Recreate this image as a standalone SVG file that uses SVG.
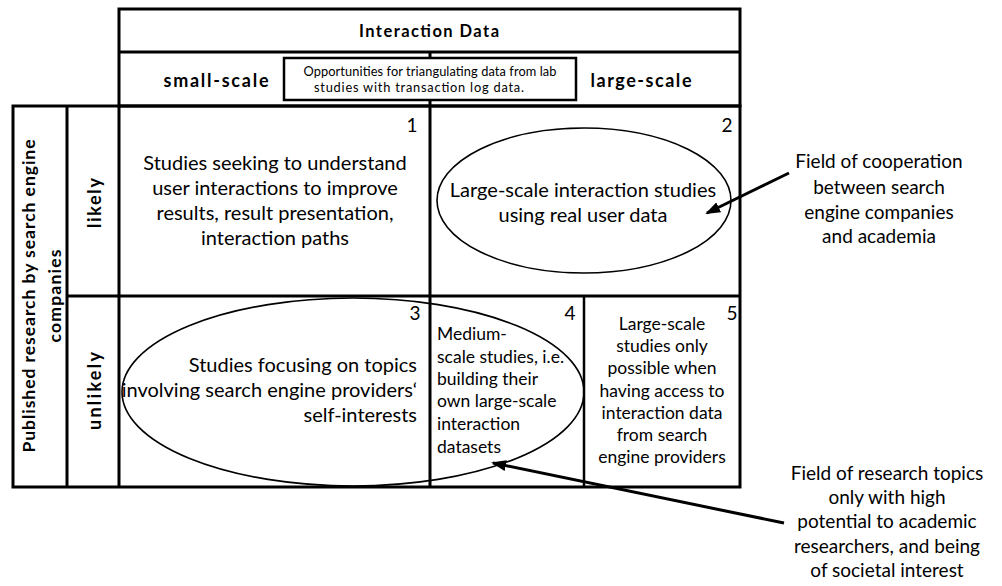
<svg xmlns="http://www.w3.org/2000/svg" width="1002" height="586" viewBox="0 0 1002 586">
  <style>
    .grid { stroke: #000; stroke-width: 3; fill: none; }
    .thin { stroke: #000; stroke-width: 2.5; fill: none; }
    .oval { stroke: #000; stroke-width: 1.6; fill: none; }
    .t { font-family: Lato, "Liberation Sans", sans-serif; fill: #000; }
    .hd { font-family: Lato, "Liberation Sans", sans-serif; font-weight: bold; fill: #000; }
    .body { font-size: 20px; }
    .small { font-size: 17.5px; }
    .note { font-size: 19px; }
    .num { font-size: 19px; }
    .mid { text-anchor: middle; }
    .end { text-anchor: end; }
    .arrow { stroke: #000; stroke-width: 3; fill: none; marker-end: url(#head); }
  </style>
  <defs>
    <marker id="head" markerUnits="userSpaceOnUse" markerWidth="15" markerHeight="11" refX="13" refY="5.5" orient="auto">
      <path d="M0,0 L15,5.5 L0,11 Z" fill="#000"/>
    </marker>
  </defs>
  <rect width="1002" height="586" fill="#fff"/>

  <!-- table grid -->
  <g id="grid">
    <rect class="grid" x="119" y="9" width="621" height="97"/>
    <line class="grid" x1="119" y1="52" x2="740" y2="52"/>
    <rect class="grid" x="13" y="106" width="727" height="381"/>
    <line class="grid" x1="67" y1="106" x2="67" y2="487"/>
    <line class="grid" x1="119" y1="106" x2="119" y2="487"/>
    <line class="grid" x1="67" y1="296" x2="740" y2="296"/>
    <line class="grid" x1="430" y1="52" x2="430" y2="487"/>
    <line class="thin" x1="584" y1="296" x2="584" y2="487"/>
  </g>

  <!-- column header -->
  <g id="header">
    <text class="hd mid" x="429" y="37" font-size="16.5" textLength="140" lengthAdjust="spacing">Interaction Data</text>
    <text class="hd mid" x="216" y="87" font-size="18" textLength="105" lengthAdjust="spacing">small-scale</text>
    <text class="hd mid" x="641" y="87" font-size="18" textLength="101" lengthAdjust="spacing">large-scale</text>
  </g>

  <g id="triangulation">
    <rect x="284" y="58" width="292" height="42" fill="#fff" stroke="#000" stroke-width="2.5"/>
    <text class="t mid" x="430" y="76" font-size="12.8" textLength="253" lengthAdjust="spacing">Opportunities for triangulating data from lab</text>
    <text class="t mid" x="419" y="92" font-size="12.8" textLength="210" lengthAdjust="spacing">studies with transaction log data.</text>
  </g>

  <!-- row headers -->
  <g id="row-axis">
    <text class="hd mid" transform="translate(35,296) rotate(-90)" font-size="17.5" textLength="313" lengthAdjust="spacing">Published research by search engine</text>
    <text class="hd mid" transform="translate(61,296) rotate(-90)" font-size="17.5" textLength="93" lengthAdjust="spacing">companies</text>
  </g>
  <g id="row-likely">
    <text class="hd mid" transform="translate(101,203) rotate(-90)" font-size="18" textLength="50" lengthAdjust="spacing">likely</text>
  </g>
  <g id="row-unlikely">
    <text class="hd mid" transform="translate(101,391) rotate(-90)" font-size="18" textLength="78" lengthAdjust="spacing">unlikely</text>
  </g>

  <!-- cells -->
  <g id="cell-1">
    <text class="t num mid" x="412" y="132">1</text>
    <text class="t body mid" x="275" y="170">Studies seeking to understand</text>
    <text class="t body mid" x="275" y="195">user interactions to improve</text>
    <text class="t body mid" x="275" y="220">results, result presentation,</text>
    <text class="t body mid" x="275" y="245">interaction paths</text>
  </g>

  <g id="cell-2">
    <text class="t num mid" x="727" y="132">2</text>
    <ellipse class="oval" cx="584" cy="200.5" rx="147" ry="72.5"/>
    <text class="t body mid" x="583" y="197">Large-scale interaction studies</text>
    <text class="t body mid" x="583" y="222">using real user data</text>
  </g>

  <g id="cell-3">
    <text class="t num mid" x="415" y="320">3</text>
    <ellipse class="oval" cx="353" cy="392" rx="231" ry="94"/>
    <text class="t body end" x="417" y="372">Studies focusing on topics</text>
    <text class="t body end" x="417" y="397">involving search engine providers‘</text>
    <text class="t body end" x="417" y="422">self-interests</text>
  </g>

  <g id="cell-4">
    <text class="t num mid" x="570" y="320">4</text>
    <text class="t small" x="437" y="340">Medium-</text>
    <text class="t small" x="437" y="363">scale studies, i.e.</text>
    <text class="t small" x="437" y="385">building their</text>
    <text class="t small" x="437" y="407">own large-scale</text>
    <text class="t small" x="437" y="430">interaction</text>
    <text class="t small" x="437" y="453">datasets</text>
  </g>

  <g id="cell-5">
    <text class="t num mid" x="732" y="320">5</text>
    <text class="t small mid" x="662" y="330">Large-scale</text>
    <text class="t small mid" x="662" y="352">studies only</text>
    <text class="t small mid" x="662" y="374">possible when</text>
    <text class="t small mid" x="662" y="397">having access to</text>
    <text class="t small mid" x="662" y="419">interaction data</text>
    <text class="t small mid" x="662" y="441">from search</text>
    <text class="t small mid" x="662" y="463">engine providers</text>
  </g>

  <!-- side annotations -->
  <g id="label-cooperation">
    <text class="t note mid" x="879" y="168">Field of cooperation</text>
    <text class="t note mid" x="879" y="194">between search</text>
    <text class="t note mid" x="879" y="219">engine companies</text>
    <text class="t note mid" x="879" y="243">and academia</text>
  </g>

  <g id="label-research">
    <text class="t note mid" x="887" y="480">Field of research topics</text>
    <text class="t note mid" x="887" y="504">only with high</text>
    <text class="t note mid" x="887" y="528">potential to academic</text>
    <text class="t note mid" x="887" y="553">researchers, and being</text>
    <text class="t note mid" x="887" y="577">of societal interest</text>
  </g>

  <!-- connectors -->
  <g id="connectors">
    <line class="arrow" x1="789" y1="173" x2="707" y2="213"/>
    <line class="arrow" x1="784" y1="523" x2="493" y2="463"/>
  </g>
</svg>
